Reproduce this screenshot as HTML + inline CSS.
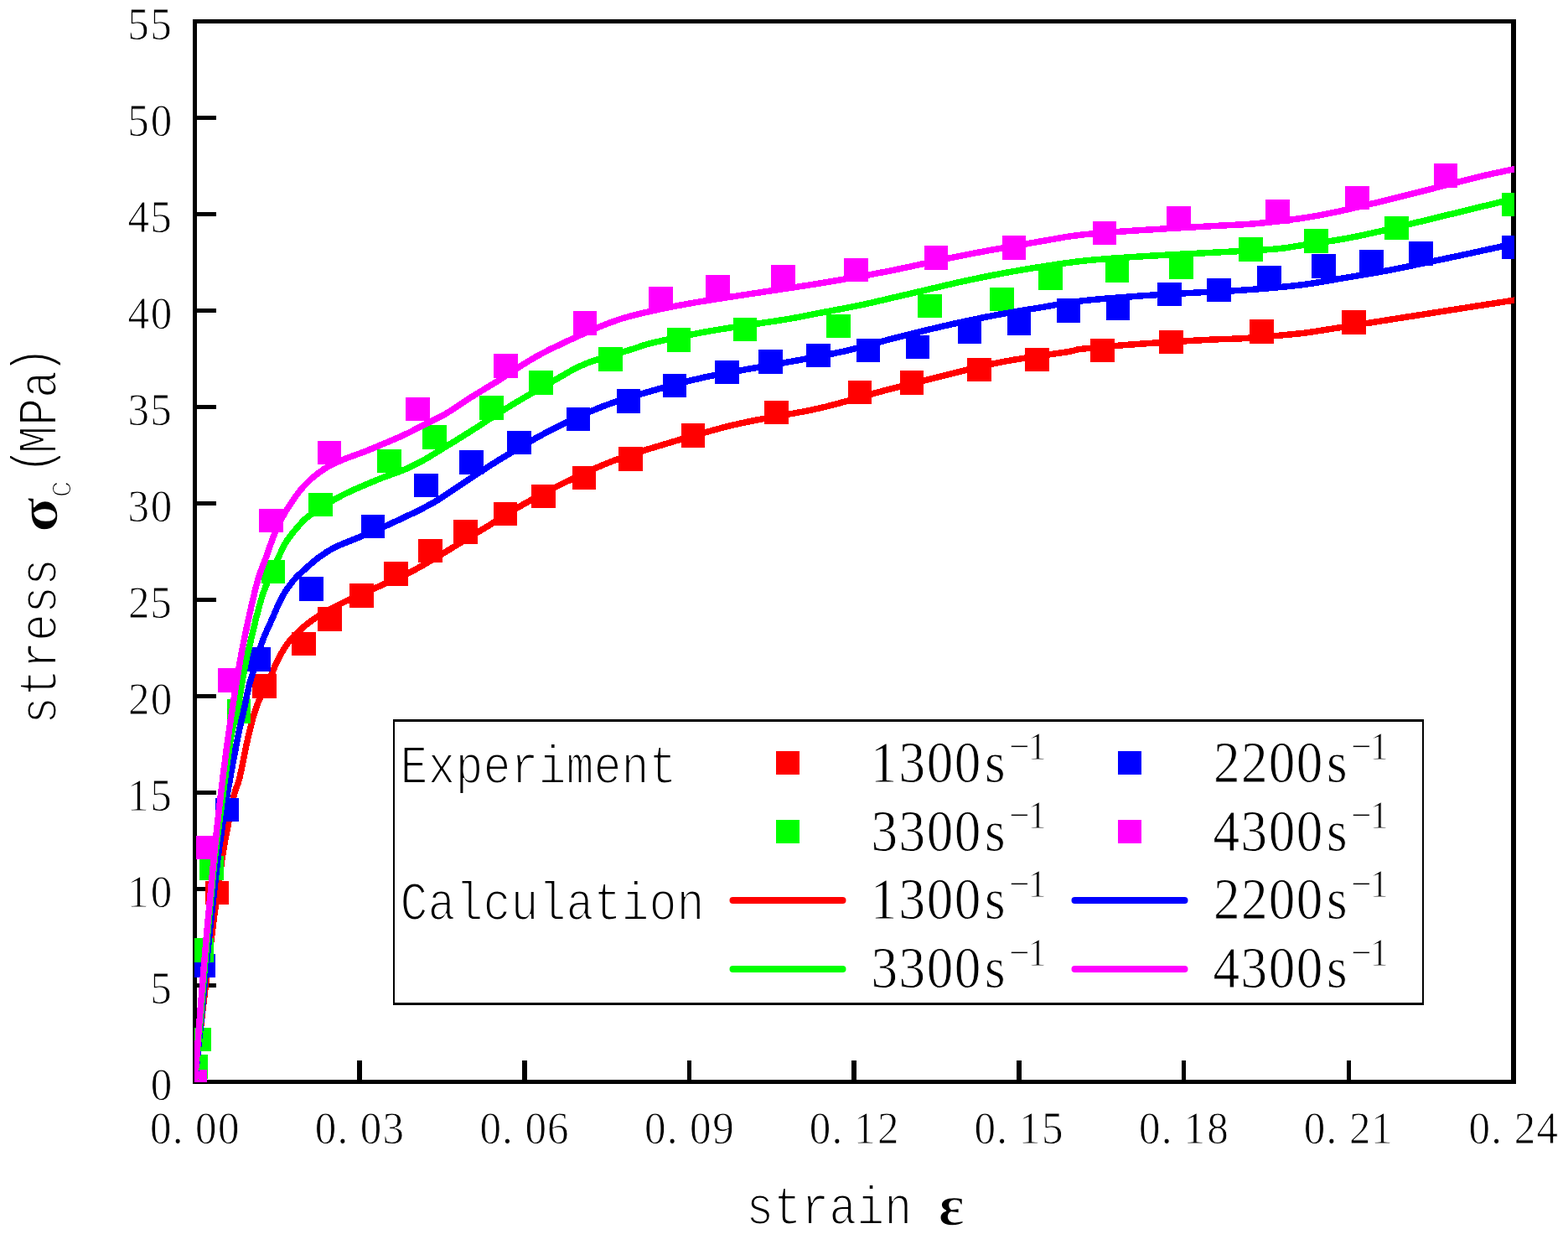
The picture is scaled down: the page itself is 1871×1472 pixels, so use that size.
<!DOCTYPE html>
<html lang="en"><head><meta charset="utf-8"><title>Stress-strain curves</title>
<style>
html,body{margin:0;padding:0;background:#fff;}
body{width:1871px;height:1472px;}
svg{display:block;}
text{font-family:"Liberation Serif","DejaVu Serif",serif;fill:#000;}
text{stroke:#fff;stroke-width:0.9px;stroke-linejoin:round;}
.tk{font-size:55.5px;}
.lg{font-size:69px;}
.sup{font-size:47px;}
.mn{font-family:"Liberation Mono","DejaVu Sans Mono",monospace;font-size:64px;stroke-width:2px;}
.sub{font-size:42px;}
.gk{font-family:"Liberation Serif","DejaVu Serif",serif;font-size:69px;font-weight:bold;stroke-width:1.4px;}
</style></head><body>
<svg width="1871" height="1472" viewBox="0 0 1871 1472">
<rect x="0" y="0" width="1871" height="1472" fill="#ffffff"/>
<defs><clipPath id="pc"><rect x="232" y="25" width="1575" height="1266"/></clipPath></defs>
<g shape-rendering="crispEdges" fill="#000">
<rect x="230" y="23" width="1579" height="5"/>
<rect x="230" y="1288" width="1579" height="5"/>
<rect x="230" y="23" width="5" height="1270"/>
<rect x="1803" y="23" width="6" height="1270"/>
<rect x="235" y="1173" width="23" height="5"/>
<rect x="235" y="1058" width="23" height="5"/>
<rect x="235" y="943" width="23" height="5"/>
<rect x="235" y="828" width="23" height="5"/>
<rect x="235" y="713" width="23" height="5"/>
<rect x="235" y="598" width="23" height="5"/>
<rect x="235" y="483" width="23" height="5"/>
<rect x="235" y="368" width="23" height="5"/>
<rect x="235" y="253" width="23" height="5"/>
<rect x="235" y="138" width="23" height="5"/>
<rect x="426" y="1265" width="6" height="23"/>
<rect x="623" y="1265" width="6" height="23"/>
<rect x="820" y="1265" width="5" height="23"/>
<rect x="1016" y="1265" width="6" height="23"/>
<rect x="1213" y="1265" width="6" height="23"/>
<rect x="1410" y="1265" width="5" height="23"/>
<rect x="1607" y="1265" width="5" height="23"/>
</g>
<g clip-path="url(#pc)" shape-rendering="crispEdges">
<g fill="#ff0000">
<rect x="218.2" y="1276.2" width="28.5" height="28.5"/>
<rect x="244.8" y="1050.5" width="28.5" height="28.5"/>
<rect x="301.2" y="804.1" width="28.5" height="28.5"/>
<rect x="348.2" y="753.8" width="28.5" height="28.5"/>
<rect x="379.1" y="724.4" width="28.5" height="28.5"/>
<rect x="417.1" y="696.0" width="28.5" height="28.5"/>
<rect x="458.4" y="670.2" width="28.5" height="28.5"/>
<rect x="499.2" y="642.8" width="28.5" height="28.5"/>
<rect x="541.2" y="620.2" width="28.5" height="28.5"/>
<rect x="588.5" y="598.8" width="28.5" height="28.5"/>
<rect x="634.2" y="577.8" width="28.5" height="28.5"/>
<rect x="682.8" y="555.8" width="28.5" height="28.5"/>
<rect x="738.1" y="533.1" width="28.5" height="28.5"/>
<rect x="812.8" y="505.2" width="28.5" height="28.5"/>
<rect x="912.2" y="477.8" width="28.5" height="28.5"/>
<rect x="1011.8" y="453.8" width="28.5" height="28.5"/>
<rect x="1073.8" y="442.2" width="28.5" height="28.5"/>
<rect x="1154.0" y="426.8" width="28.5" height="28.5"/>
<rect x="1223.2" y="414.8" width="28.5" height="28.5"/>
<rect x="1301.2" y="403.8" width="28.5" height="28.5"/>
<rect x="1383.2" y="393.8" width="28.5" height="28.5"/>
<rect x="1491.2" y="381.2" width="28.5" height="28.5"/>
<rect x="1601.2" y="370.2" width="28.5" height="28.5"/>
</g>
<path d="M231.6 1298.5C231.8 1297.2 231.0 1304.1 232.5 1290.5C234.0 1276.9 237.2 1245.6 240.5 1217.0C243.8 1188.4 248.3 1150.5 252.3 1119.0C256.3 1087.5 261.5 1048.7 264.5 1027.9C267.5 1007.1 267.8 1007.3 270.3 994.0C272.8 980.7 276.8 959.3 279.4 948.3C282.0 937.3 283.1 939.2 285.9 927.9C288.6 916.6 292.5 894.7 295.9 880.4C299.3 866.1 301.7 854.8 306.5 841.9C311.3 829.0 320.9 811.4 324.8 802.9C328.7 794.4 326.5 797.2 329.8 791.0C333.1 784.8 337.6 774.0 344.7 765.5C351.8 757.0 361.7 747.7 372.3 740.0C382.9 732.3 395.4 725.9 408.4 719.3C421.3 712.7 436.2 706.8 450.0 700.5C463.8 694.2 477.7 688.7 491.0 681.8C504.3 674.9 515.4 668.0 530.0 659.3C544.6 650.6 562.7 639.5 578.7 629.7C594.7 619.9 610.3 609.7 626.1 600.7C641.9 591.7 656.9 583.8 673.4 575.8C689.9 567.8 708.3 559.1 725.0 552.4C741.7 545.7 748.8 543.2 773.7 535.7C798.6 528.2 842.5 514.8 874.4 507.1C906.3 499.4 944.1 494.0 965.0 489.7C985.9 485.4 984.3 485.5 999.8 481.4C1015.3 477.3 1036.6 470.8 1057.9 465.2C1079.2 459.6 1104.3 453.4 1127.5 447.8C1150.7 442.2 1172.7 436.2 1197.1 431.5C1221.5 426.8 1258.2 422.2 1273.7 419.7C1289.2 417.2 1276.2 417.9 1290.0 416.4C1303.8 414.9 1330.1 412.4 1356.8 410.5C1383.5 408.6 1428.7 406.0 1450.1 404.9C1471.5 403.8 1468.3 404.8 1485.0 403.6C1501.7 402.4 1534.5 399.5 1550.0 397.9C1565.5 396.3 1559.3 396.9 1577.9 394.0C1596.5 391.1 1635.9 384.8 1661.4 380.8C1686.9 376.8 1706.9 373.7 1731.0 369.9C1755.1 366.1 1791.7 360.5 1806.2 358.2C1820.7 355.9 1816.2 356.6 1818.2 356.3" fill="none" stroke="#ff0000" stroke-width="7.5" stroke-linejoin="round"/>
<g fill="#0000ff">
<rect x="218.2" y="1276.2" width="28.5" height="28.5"/>
<rect x="228.2" y="1137.8" width="28.5" height="28.5"/>
<rect x="256.8" y="951.8" width="28.5" height="28.5"/>
<rect x="294.8" y="772.0" width="28.5" height="28.5"/>
<rect x="357.1" y="688.1" width="28.5" height="28.5"/>
<rect x="430.8" y="613.8" width="28.5" height="28.5"/>
<rect x="494.2" y="564.8" width="28.5" height="28.5"/>
<rect x="548.4" y="537.1" width="28.5" height="28.5"/>
<rect x="605.2" y="513.8" width="28.5" height="28.5"/>
<rect x="675.8" y="485.8" width="28.5" height="28.5"/>
<rect x="735.8" y="464.2" width="28.5" height="28.5"/>
<rect x="790.8" y="445.8" width="28.5" height="28.5"/>
<rect x="853.2" y="429.8" width="28.5" height="28.5"/>
<rect x="905.4" y="417.2" width="28.5" height="28.5"/>
<rect x="962.2" y="409.8" width="28.5" height="28.5"/>
<rect x="1021.8" y="403.8" width="28.5" height="28.5"/>
<rect x="1080.8" y="399.8" width="28.5" height="28.5"/>
<rect x="1142.8" y="381.1" width="28.5" height="28.5"/>
<rect x="1201.8" y="371.1" width="28.5" height="28.5"/>
<rect x="1260.8" y="356.1" width="28.5" height="28.5"/>
<rect x="1319.8" y="353.1" width="28.5" height="28.5"/>
<rect x="1381.2" y="336.6" width="28.5" height="28.5"/>
<rect x="1440.2" y="331.8" width="28.5" height="28.5"/>
<rect x="1500.2" y="317.4" width="28.5" height="28.5"/>
<rect x="1565.3" y="303.2" width="28.5" height="28.5"/>
<rect x="1622.2" y="298.4" width="28.5" height="28.5"/>
<rect x="1681.2" y="288.2" width="28.5" height="28.5"/>
<rect x="1792.2" y="280.8" width="28.5" height="28.5"/>
</g>
<g fill="#00ff00">
<rect x="219.1" y="1258.0" width="28.5" height="28.5"/>
<rect x="223.2" y="1225.8" width="28.5" height="28.5"/>
<rect x="226.2" y="1119.2" width="28.5" height="28.5"/>
<rect x="238.2" y="1021.2" width="28.5" height="28.5"/>
<rect x="270.8" y="834.2" width="28.5" height="28.5"/>
<rect x="311.8" y="667.5" width="28.5" height="28.5"/>
<rect x="368.2" y="587.8" width="28.5" height="28.5"/>
<rect x="450.2" y="535.8" width="28.5" height="28.5"/>
<rect x="504.2" y="507.2" width="28.5" height="28.5"/>
<rect x="572.2" y="472.4" width="28.5" height="28.5"/>
<rect x="631.4" y="442.1" width="28.5" height="28.5"/>
<rect x="714.2" y="414.4" width="28.5" height="28.5"/>
<rect x="795.8" y="391.2" width="28.5" height="28.5"/>
<rect x="874.8" y="378.8" width="28.5" height="28.5"/>
<rect x="986.1" y="374.8" width="28.5" height="28.5"/>
<rect x="1095.2" y="350.8" width="28.5" height="28.5"/>
<rect x="1181.2" y="342.8" width="28.5" height="28.5"/>
<rect x="1239.2" y="317.1" width="28.5" height="28.5"/>
<rect x="1318.8" y="308.1" width="28.5" height="28.5"/>
<rect x="1395.2" y="304.1" width="28.5" height="28.5"/>
<rect x="1478.2" y="283.2" width="28.5" height="28.5"/>
<rect x="1556.2" y="273.2" width="28.5" height="28.5"/>
<rect x="1652.2" y="257.8" width="28.5" height="28.5"/>
<rect x="1792.2" y="229.8" width="28.5" height="28.5"/>
</g>
<g fill="#ff00ff">
<rect x="218.2" y="1276.2" width="28.5" height="28.5"/>
<rect x="234.2" y="996.8" width="28.5" height="28.5"/>
<rect x="260.2" y="797.2" width="28.5" height="28.5"/>
<rect x="309.1" y="606.8" width="28.5" height="28.5"/>
<rect x="378.8" y="525.8" width="28.5" height="28.5"/>
<rect x="484.1" y="473.8" width="28.5" height="28.5"/>
<rect x="589.2" y="422.2" width="28.5" height="28.5"/>
<rect x="683.8" y="371.2" width="28.5" height="28.5"/>
<rect x="774.1" y="341.9" width="28.5" height="28.5"/>
<rect x="842.1" y="327.8" width="28.5" height="28.5"/>
<rect x="920.1" y="316.1" width="28.5" height="28.5"/>
<rect x="1007.2" y="307.8" width="28.5" height="28.5"/>
<rect x="1102.8" y="293.1" width="28.5" height="28.5"/>
<rect x="1195.8" y="281.1" width="28.5" height="28.5"/>
<rect x="1303.8" y="263.8" width="28.5" height="28.5"/>
<rect x="1392.2" y="246.1" width="28.5" height="28.5"/>
<rect x="1510.2" y="238.1" width="28.5" height="28.5"/>
<rect x="1605.2" y="221.8" width="28.5" height="28.5"/>
<rect x="1710.8" y="195.2" width="28.5" height="28.5"/>
</g>
<path d="M231.7 1298.5C231.8 1297.2 231.1 1304.1 232.5 1290.5C233.9 1276.9 237.2 1245.6 240.0 1217.0C242.8 1188.4 246.2 1150.5 249.5 1119.0C252.8 1087.5 257.1 1048.7 259.5 1027.9C261.9 1007.1 262.3 1007.3 264.2 994.0C266.1 980.7 267.9 967.2 271.1 948.3C274.3 929.4 280.1 898.1 283.6 880.4C287.1 862.7 289.8 852.6 292.1 841.9C294.4 831.2 295.4 824.9 297.6 816.4C299.8 807.9 302.9 799.5 305.5 791.0C308.1 782.5 309.8 774.0 312.9 765.5C316.0 757.0 319.8 749.1 323.9 740.0C328.0 730.9 332.9 718.8 337.3 710.9C341.7 703.0 346.1 697.4 350.1 692.5C354.1 687.6 356.0 686.1 361.1 681.5C366.2 676.9 374.5 669.3 380.9 664.6C387.2 659.9 391.0 657.2 399.2 653.1C407.4 649.0 419.8 644.6 430.0 640.3C440.2 636.0 449.9 632.0 460.4 627.3C470.9 622.6 483.9 616.5 493.0 612.1C502.1 607.7 508.6 604.3 514.8 600.9C521.0 597.5 517.0 599.9 530.0 591.5C543.0 583.1 571.8 563.3 592.7 550.4C613.6 537.5 634.4 525.0 655.3 514.1C676.2 503.2 697.3 493.4 718.0 485.3C738.7 477.2 759.9 471.5 779.5 465.8C799.1 460.1 816.7 455.4 835.5 451.2C854.3 446.9 873.7 443.8 892.5 440.3C911.3 436.9 929.2 434.0 948.2 430.5C967.2 427.0 987.3 423.5 1006.7 419.1C1026.1 414.7 1044.7 409.1 1064.8 404.0C1084.9 398.9 1107.8 393.1 1127.5 388.6C1147.2 384.1 1163.5 380.6 1183.2 376.8C1202.9 373.1 1228.0 369.1 1245.8 366.1C1263.6 363.1 1271.0 361.2 1290.0 359.0C1309.0 356.8 1337.1 354.7 1359.6 353.1C1382.1 351.5 1404.2 350.4 1425.1 349.2C1446.0 348.0 1464.2 347.5 1485.0 346.0C1505.8 344.5 1529.9 342.6 1550.0 340.2C1570.1 337.8 1587.1 334.4 1605.7 331.3C1624.3 328.2 1638.2 326.1 1661.4 321.6C1684.6 317.1 1724.1 308.6 1745.0 304.2C1765.9 299.8 1776.5 297.3 1786.7 295.1C1796.9 292.9 1800.8 292.1 1806.0 291.0C1811.2 289.9 1816.0 288.9 1818.0 288.5" fill="none" stroke="#0000ff" stroke-width="7.5" stroke-linejoin="round"/>
<path d="M231.8 1298.5C231.9 1297.2 231.3 1304.1 232.5 1290.5C233.7 1276.9 236.6 1245.6 239.1 1217.0C241.6 1188.4 244.5 1150.5 247.3 1119.0C250.1 1087.5 253.1 1054.4 256.0 1027.9C258.9 1001.4 261.2 984.6 264.5 960.0C267.8 935.4 272.2 900.1 275.5 880.4C278.8 860.7 281.1 856.8 284.0 841.9C286.9 827.0 290.5 803.7 293.0 791.0C295.5 778.3 296.9 774.0 298.9 765.5C300.9 757.0 303.1 747.6 305.0 740.0C306.9 732.4 308.4 726.4 310.3 720.0C312.2 713.6 312.5 710.9 316.2 701.7C319.9 692.5 328.1 674.2 332.3 665.0C336.5 655.8 337.3 652.8 341.2 646.7C345.1 640.6 351.0 633.5 355.6 628.3C360.2 623.1 360.3 621.5 368.7 615.5C377.1 609.5 392.6 599.1 406.1 592.0C419.6 584.9 436.9 577.9 449.6 572.6C462.3 567.3 473.1 564.2 482.2 560.4C491.2 556.6 495.9 554.2 503.9 549.8C511.9 545.4 520.6 539.7 530.0 534.0C539.4 528.3 546.4 524.1 560.0 515.5C573.6 506.9 593.1 493.8 611.6 482.6C630.1 471.4 658.3 455.5 671.2 448.1C684.1 440.7 682.8 441.2 689.1 438.2C695.4 435.2 698.5 433.6 709.2 430.0C720.0 426.4 741.9 420.3 753.6 416.8C765.3 413.3 764.0 412.4 779.5 408.8C795.0 405.2 820.3 399.6 846.6 395.0C872.9 390.4 915.1 384.7 937.1 381.1C959.1 377.5 963.4 376.2 978.9 373.2C994.4 370.2 1012.2 367.1 1030.0 363.3C1047.8 359.5 1064.8 355.2 1085.7 350.4C1106.6 345.6 1133.2 339.0 1155.3 334.3C1177.3 329.6 1195.5 326.0 1218.0 322.2C1240.5 318.4 1265.2 314.3 1290.0 311.5C1314.8 308.7 1339.9 307.3 1366.6 305.6C1393.3 303.9 1424.6 302.5 1450.1 301.1C1475.6 299.7 1503.1 298.5 1519.8 297.2C1536.5 295.9 1533.4 295.7 1550.0 293.1C1566.6 290.6 1591.8 287.6 1619.6 281.9C1647.4 276.2 1690.4 265.3 1717.1 258.9C1743.8 252.5 1765.0 247.1 1779.8 243.6C1794.6 240.1 1799.6 239.1 1806.0 237.6C1812.4 236.1 1816.0 235.3 1818.0 234.9" fill="none" stroke="#00ff00" stroke-width="7.5" stroke-linejoin="round"/>
<path d="M231.9 1298.5C232.0 1297.2 231.5 1304.1 232.5 1290.5C233.5 1276.9 235.8 1245.6 238.1 1217.0C240.4 1188.4 243.4 1150.5 246.2 1119.0C249.0 1087.5 252.2 1054.4 254.8 1027.9C257.4 1001.4 259.1 984.6 262.0 960.0C264.9 935.4 268.1 908.6 272.1 880.4C276.1 852.2 282.0 814.4 286.0 791.0C290.0 767.6 292.6 756.4 296.2 740.0C299.8 723.6 304.0 705.0 307.5 692.5C311.0 680.0 314.1 674.2 317.4 665.0C320.7 655.8 323.5 646.7 327.4 637.5C331.3 628.3 334.8 620.0 341.0 610.0C347.2 600.0 355.5 587.0 364.5 577.8C373.5 568.5 382.8 561.2 395.2 554.5C407.6 547.8 424.2 543.2 438.7 537.3C453.2 531.3 471.3 523.7 482.2 518.8C493.1 513.9 495.9 511.7 503.9 507.7C511.9 503.7 520.6 500.1 530.0 494.7C539.4 489.3 549.2 482.0 560.0 475.2C570.8 468.4 584.2 460.6 595.0 453.8C605.8 447.0 614.2 440.8 624.5 434.6C634.8 428.4 639.6 424.8 656.8 416.5C674.0 408.2 709.3 392.1 727.8 384.9C746.3 377.7 752.1 377.0 768.0 373.2C783.9 369.4 801.7 365.8 822.9 362.0C844.1 358.2 869.3 354.6 895.3 350.6C921.3 346.6 951.8 342.3 978.9 337.9C1006.0 333.4 1028.5 329.6 1057.9 323.9C1087.3 318.1 1122.8 309.7 1155.3 303.4C1187.8 297.1 1230.3 289.9 1252.8 286.0C1275.2 282.1 1272.2 282.1 1290.0 280.2C1307.8 278.3 1331.8 276.5 1359.6 274.7C1387.4 272.9 1433.9 270.4 1457.1 269.1C1480.3 267.8 1483.4 268.1 1498.9 266.7C1514.4 265.3 1534.5 263.0 1550.0 260.8C1565.5 258.6 1572.1 257.6 1591.8 253.4C1611.5 249.2 1640.6 242.2 1668.4 235.3C1696.2 228.5 1735.9 217.9 1758.9 212.3C1781.9 206.7 1796.3 204.0 1806.2 201.8C1816.1 199.6 1816.2 199.6 1818.2 199.1" fill="none" stroke="#ff00ff" stroke-width="7.5" stroke-linejoin="round"/>
</g>
<rect x="470.2" y="859.6" width="1227.7" height="337.8" fill="#fff" stroke="#000" stroke-width="2.5" shape-rendering="crispEdges"/>
<g shape-rendering="crispEdges">
<rect x="926" y="896" width="28" height="28" fill="#ff0000"/>
<rect x="926" y="978" width="28" height="28" fill="#00ff00"/>
<rect x="1334" y="896" width="28" height="28" fill="#0000ff"/>
<rect x="1334" y="978" width="28" height="28" fill="#ff00ff"/>
</g>
<line x1="874.5" y1="1074" x2="1005.5" y2="1074" stroke="#ff0000" stroke-width="8" stroke-linecap="round"/>
<line x1="874.5" y1="1156" x2="1005.5" y2="1156" stroke="#00ff00" stroke-width="8" stroke-linecap="round"/>
<line x1="1282.5" y1="1074" x2="1413.5" y2="1074" stroke="#0000ff" stroke-width="8" stroke-linecap="round"/>
<line x1="1282.5" y1="1156" x2="1413.5" y2="1156" stroke="#ff00ff" stroke-width="8" stroke-linecap="round"/>
<text class="mn" transform="translate(0.0 933.7) scale(0.859375 1)" y="0" x="555.6 594.0 632.4 670.8 709.2 747.6 786.0 824.4 862.8 901.2">Experiment</text>
<text class="mn" transform="translate(0.0 1097.4) scale(0.859375 1)" y="0" x="555.6 594.0 632.4 670.8 709.2 747.6 786.0 824.4 862.8 901.2 939.6">Calculation</text>
<text class="lg" transform="translate(0.0 932.7) scale(0.915 1)" y="0" x="1135.3 1172.1 1208.4 1244.5 1284.2">1300s<tspan class="sup" x="1316.2 1341.1" dy="-26.7">−1</tspan></text>
<text class="lg" transform="translate(0.0 1014.5) scale(0.915 1)" y="0" x="1136.0 1172.1 1208.4 1244.5 1284.2">3300s<tspan class="sup" x="1316.2 1341.1" dy="-26.7">−1</tspan></text>
<text class="lg" transform="translate(0.0 1096.4) scale(0.915 1)" y="0" x="1135.3 1172.1 1208.4 1244.5 1284.2">1300s<tspan class="sup" x="1316.2 1341.1" dy="-26.7">−1</tspan></text>
<text class="lg" transform="translate(0.0 1178.2) scale(0.915 1)" y="0" x="1136.0 1172.1 1208.4 1244.5 1284.2">3300s<tspan class="sup" x="1316.2 1341.1" dy="-26.7">−1</tspan></text>
<text class="lg" transform="translate(0.0 932.7) scale(0.915 1)" y="0" x="1582.6 1618.7 1654.3 1690.4 1730.1">2200s<tspan class="sup" x="1762.1 1787.0" dy="-26.7">−1</tspan></text>
<text class="lg" transform="translate(0.0 1014.5) scale(0.915 1)" y="0" x="1582.1 1618.0 1654.3 1690.4 1730.1">4300s<tspan class="sup" x="1762.1 1787.0" dy="-26.7">−1</tspan></text>
<text class="lg" transform="translate(0.0 1096.4) scale(0.915 1)" y="0" x="1582.6 1618.7 1654.3 1690.4 1730.1">2200s<tspan class="sup" x="1762.1 1787.0" dy="-26.7">−1</tspan></text>
<text class="lg" transform="translate(0.0 1178.2) scale(0.915 1)" y="0" x="1582.1 1618.0 1654.3 1690.4 1730.1">4300s<tspan class="sup" x="1762.1 1787.0" dy="-26.7">−1</tspan></text>
<text class="tk" transform="translate(0.0 1311.8) scale(0.92 1)" y="0" x="195.4">0</text>
<text class="tk" transform="translate(0.0 1196.8) scale(0.92 1)" y="0" x="194.8">5</text>
<text class="tk" transform="translate(0.0 1081.8) scale(0.92 1)" y="0" x="165.2 195.4">10</text>
<text class="tk" transform="translate(0.0 966.8) scale(0.92 1)" y="0" x="165.2 194.8">15</text>
<text class="tk" transform="translate(0.0 851.8) scale(0.92 1)" y="0" x="166.3 195.4">20</text>
<text class="tk" transform="translate(0.0 736.8) scale(0.92 1)" y="0" x="166.3 194.8">25</text>
<text class="tk" transform="translate(0.0 621.8) scale(0.92 1)" y="0" x="165.8 195.4">30</text>
<text class="tk" transform="translate(0.0 506.8) scale(0.92 1)" y="0" x="165.8 194.8">35</text>
<text class="tk" transform="translate(0.0 391.8) scale(0.92 1)" y="0" x="165.9 195.4">40</text>
<text class="tk" transform="translate(0.0 276.8) scale(0.92 1)" y="0" x="165.9 194.8">45</text>
<text class="tk" transform="translate(0.0 161.8) scale(0.92 1)" y="0" x="165.5 195.4">50</text>
<text class="tk" transform="translate(0.0 46.8) scale(0.92 1)" y="0" x="165.5 194.8">55</text>
<text class="tk" transform="translate(0.0 1364.0) scale(0.92 1)" y="0" x="194.6 223.6 253.3 282.6">0.00</text>
<text class="tk" transform="translate(0.0 1364.0) scale(0.92 1)" y="0" x="408.4 437.4 467.1 496.2">0.03</text>
<text class="tk" transform="translate(0.0 1364.0) scale(0.92 1)" y="0" x="622.2 651.2 680.9 709.9">0.06</text>
<text class="tk" transform="translate(0.0 1364.0) scale(0.92 1)" y="0" x="836.0 865.0 894.7 924.3">0.09</text>
<text class="tk" transform="translate(0.0 1364.0) scale(0.92 1)" y="0" x="1049.8 1078.8 1107.7 1138.1">0.12</text>
<text class="tk" transform="translate(0.0 1364.0) scale(0.92 1)" y="0" x="1263.6 1292.6 1321.5 1351.1">0.15</text>
<text class="tk" transform="translate(0.0 1364.0) scale(0.92 1)" y="0" x="1477.3 1506.3 1535.3 1565.4">0.18</text>
<text class="tk" transform="translate(0.0 1364.0) scale(0.92 1)" y="0" x="1691.1 1720.1 1750.1 1778.4">0.21</text>
<text class="tk" transform="translate(0.0 1364.0) scale(0.92 1)" y="0" x="1904.9 1933.9 1963.9 1992.9">0.24</text>
<text class="mn" transform="translate(0.0 1459.5) scale(0.859375 1)" y="0" x="1035.9 1074.3 1112.7 1151.1 1189.5 1227.9">strain</text>
<text class="gk" transform="translate(1119.7 1460.7) scale(1.055 1)" x="0" y="0" style="font-size:69px">ε</text>
<text class="mn" transform="translate(67.0 864.0) rotate(-90) scale(0.859375 1)" y="0" x="0.0 38.4 76.8 115.2 153.6 192.0">stress</text>
<text class="gk" transform="translate(68.2 635.1) rotate(-90) scale(1.15 1)" x="0" y="0" style="font-size:67px">σ</text>
<text class="mn sub" transform="translate(85.0 594.0) rotate(-90) scale(0.859375 1)" y="0" x="0">c</text>
<text class="mn" transform="translate(67.0 864.0) rotate(-90) scale(0.833333 1)" y="0" x="358.2 387.6 427.2 466.8 501.0" dy="-8 8 0 0 -8" style="font-size:66px">(MPa)</text>
</svg>
</body></html>
